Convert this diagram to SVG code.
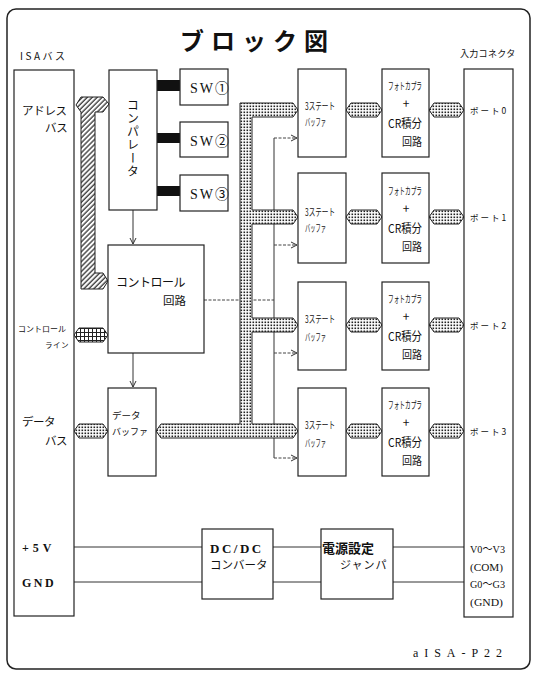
<svg xmlns="http://www.w3.org/2000/svg" width="539" height="680" viewBox="0 0 539 680">
<style>
.box{fill:#fff;stroke:#222;stroke-width:1.2}
.jp{font-family:"Noto Sans CJK JP",sans-serif;fill:#111}
.sf{font-family:"Liberation Serif","Noto Sans CJK JP",serif;fill:#111}
.ln{fill:none;stroke:#333;stroke-width:1}
.dl{fill:none;stroke:#444;stroke-width:1;stroke-dasharray:3 1.5}
.dot{fill:url(#dots);stroke:#222;stroke-width:1}
.b10{font-size:10px}
</style>
<defs>
<pattern id="dots" width="3" height="3" patternUnits="userSpaceOnUse"><rect width="3" height="3" fill="#fff"/><rect x="0.5" y="0.5" width="1.6" height="1.6" fill="#222"/></pattern>
<pattern id="hatch" width="3.5" height="3.5" patternUnits="userSpaceOnUse" patternTransform="rotate(45)"><rect width="3.5" height="3.5" fill="#fff"/><line x1="1" y1="0" x2="1" y2="3.5" stroke="#222" stroke-width="1.2"/></pattern>
<pattern id="grid" width="4" height="4" patternUnits="userSpaceOnUse"><rect width="4" height="4" fill="#fff"/><path d="M0 .5H4M.5 0V4" stroke="#222" stroke-width="1"/></pattern>
<marker id="arr" markerWidth="8" markerHeight="8" refX="7" refY="4" orient="auto" markerUnits="userSpaceOnUse"><path d="M1,1 L7,4 L1,7" fill="none" stroke="#333" stroke-width="1"/></marker>
</defs>
<rect width="539" height="680" fill="#fff"/>
<rect x="7" y="9" width="523" height="660" rx="9" fill="none" stroke="#222" stroke-width="1.5"/>
<text class="jp" x="180" y="50" font-size="24" font-weight="bold" letter-spacing="7">ブロック図</text>
<text class="jp" x="20" y="60" font-size="10" letter-spacing="2.5">ISAバス</text>
<text class="jp" x="460" y="57" font-size="9" letter-spacing="0.3">入力コネクタ</text>
<text class="sf" x="413" y="657" font-size="12" textLength="89" lengthAdjust="spacing">aISA-P22</text>

<g id="connectors">
<line class="ln" x1="133" y1="210" x2="133" y2="244" marker-end="url(#arr)"/>
<line class="ln" x1="133" y1="353" x2="133" y2="387" marker-end="url(#arr)"/>
<line class="dl" x1="204" y1="300" x2="274" y2="300"/>
<line class="ln" x1="274" y1="138" x2="274" y2="458"/>
<line class="dl" x1="274" y1="138" x2="297" y2="138" marker-end="url(#arr)"/>
<line class="dl" x1="274" y1="245" x2="297" y2="245" marker-end="url(#arr)"/>
<line class="dl" x1="274" y1="353" x2="297" y2="353" marker-end="url(#arr)"/>
<line class="dl" x1="274" y1="458" x2="297" y2="458" marker-end="url(#arr)"/>
<rect x="157" y="80" width="23" height="11" fill="#111"/>
<rect x="157" y="133" width="23" height="10" fill="#111"/>
<rect x="157" y="186" width="23" height="10" fill="#111"/>
<polygon points="76,105 81,97 103,97 109,104 103,112 95,112 95,273 103,273 108,281 103,289 81,289 81,112" fill="url(#hatch)" stroke="#222" stroke-width="1"/>
<polygon class="dot" points="240,103 293,103 298,110 293,117 252,117 252,210 293,210 298,217 293,224 252,224 252,318 293,318 298,325 293,332 252,332 252,424 293,424 298,431 293,438 161,438 156,431 161,424 240,424"/>
<polygon points="74,335 79,328 103,328 108,335 103,342 79,342" fill="url(#grid)" stroke="#222" stroke-width="1"/>
<polygon class="dot" points="74,431 79,424 103,424 108,431 103,438 79,438"/>
<polygon class="dot" points="346,110 351,103 377,103 382,110 377,117 351,117"/>
<polygon class="dot" points="429,110 434,103 459,103 464,110 459,117 434,117"/>
<polygon class="dot" points="346,217 351,210 377,210 382,217 377,224 351,224"/>
<polygon class="dot" points="429,217 434,210 459,210 464,217 459,224 434,224"/>
<polygon class="dot" points="346,325 351,318 377,318 382,325 377,332 351,332"/>
<polygon class="dot" points="429,325 434,318 459,318 464,325 459,332 434,332"/>
<polygon class="dot" points="346,431 351,424 377,424 382,431 377,438 351,438"/>
<polygon class="dot" points="429,431 434,424 459,424 464,431 459,438 434,438"/>
<line class="ln" x1="74" y1="547" x2="202" y2="547"/>
<line class="ln" x1="74" y1="582" x2="202" y2="582"/>
<line class="ln" x1="273" y1="547" x2="321" y2="547"/>
<line class="ln" x1="273" y1="582" x2="321" y2="582"/>
<line class="ln" x1="393" y1="547" x2="464" y2="547"/>
<line class="ln" x1="393" y1="582" x2="464" y2="582"/>
</g>

<g id="isa-bus">
<rect class="box" x="14" y="70" width="60" height="546"/>
<text class="jp" x="22" y="115" font-size="11.5" letter-spacing="-0.3">アドレス</text>
<text class="jp" x="45" y="132" font-size="11.5" letter-spacing="-0.3">バス</text>
<text class="jp" x="18" y="332" font-size="8">コントロール</text>
<text class="jp" x="45" y="348" font-size="7.5" letter-spacing="0.5">ライン</text>
<text class="jp" x="22" y="426" font-size="11.5" letter-spacing="-0.5">データ</text>
<text class="jp" x="45" y="445" font-size="11.5" letter-spacing="-0.5">バス</text>
<text class="sf" x="22" y="552" font-size="12" font-weight="bold" letter-spacing="4">+5V</text>
<text class="sf" x="22" y="587" font-size="12" font-weight="bold" letter-spacing="2.5">GND</text>
</g>

<g id="comparator">
<rect class="box" x="109" y="70" width="48" height="140"/>
<text class="jp" x="133" y="99" font-size="12" letter-spacing="1.3" style="writing-mode:vertical-rl">コンパレータ</text>
</g>
<g id="sw1"><rect class="box" x="180" y="69" width="48" height="36"/><text class="sf" x="190" y="93" font-size="14" letter-spacing="2">SW①</text></g>
<g id="sw2"><rect class="box" x="180" y="122" width="48" height="35"/><text class="sf" x="190" y="146" font-size="14" letter-spacing="2">SW②</text></g>
<g id="sw3"><rect class="box" x="180" y="175" width="48" height="36"/><text class="sf" x="190" y="199" font-size="14" letter-spacing="2">SW③</text></g>

<g id="control-circuit">
<rect class="box" x="108" y="245" width="96" height="108"/>
<text class="jp" x="116" y="287" font-size="12" letter-spacing="-0.5">コントロール</text>
<text class="jp" x="163" y="305" font-size="11.5">回路</text>
</g>
<g id="data-buffer">
<rect class="box" x="108" y="388" width="48" height="88"/>
<text class="jp" x="112" y="419" font-size="9.5">データ</text>
<text class="jp" x="112" y="435" font-size="9">バッファ</text>
</g>

<g id="buffer0"><rect class="box" x="298" y="69" width="48" height="88"/><text class="jp b10" x="305" y="110" textLength="30" lengthAdjust="spacingAndGlyphs">3ステート</text><text class="jp b10" x="305" y="126" textLength="21" lengthAdjust="spacingAndGlyphs">バッファ</text></g>
<g id="buffer1"><rect class="box" x="298" y="173" width="48" height="90"/><text class="jp b10" x="305" y="216" textLength="30" lengthAdjust="spacingAndGlyphs">3ステート</text><text class="jp b10" x="305" y="232" textLength="21" lengthAdjust="spacingAndGlyphs">バッファ</text></g>
<g id="buffer2"><rect class="box" x="298" y="282" width="48" height="88"/><text class="jp b10" x="305" y="323" textLength="30" lengthAdjust="spacingAndGlyphs">3ステート</text><text class="jp b10" x="305" y="341" textLength="21" lengthAdjust="spacingAndGlyphs">バッファ</text></g>
<g id="buffer3"><rect class="box" x="298" y="388" width="48" height="88"/><text class="jp b10" x="305" y="429" textLength="30" lengthAdjust="spacingAndGlyphs">3ステート</text><text class="jp b10" x="305" y="447" textLength="21" lengthAdjust="spacingAndGlyphs">バッファ</text></g>

<g id="photo0"><rect class="box" x="382" y="69" width="47" height="88"/><text class="jp b10" x="388" y="90" textLength="34" lengthAdjust="spacingAndGlyphs">フォトカプラ</text><text class="jp" x="406" y="108" font-size="12" text-anchor="middle">+</text><text class="jp" x="388" y="128" font-size="12" textLength="34" lengthAdjust="spacingAndGlyphs">CR積分</text><text class="jp" x="402" y="146" font-size="11" textLength="20" lengthAdjust="spacingAndGlyphs">回路</text></g>
<g id="photo1"><rect class="box" x="382" y="173" width="47" height="90"/><text class="jp b10" x="388" y="195" textLength="34" lengthAdjust="spacingAndGlyphs">フォトカプラ</text><text class="jp" x="406" y="213" font-size="12" text-anchor="middle">+</text><text class="jp" x="388" y="233" font-size="12" textLength="34" lengthAdjust="spacingAndGlyphs">CR積分</text><text class="jp" x="402" y="251" font-size="11" textLength="20" lengthAdjust="spacingAndGlyphs">回路</text></g>
<g id="photo2"><rect class="box" x="382" y="282" width="47" height="88"/><text class="jp b10" x="388" y="303" textLength="34" lengthAdjust="spacingAndGlyphs">フォトカプラ</text><text class="jp" x="406" y="321" font-size="12" text-anchor="middle">+</text><text class="jp" x="388" y="341" font-size="12" textLength="34" lengthAdjust="spacingAndGlyphs">CR積分</text><text class="jp" x="402" y="359" font-size="11" textLength="20" lengthAdjust="spacingAndGlyphs">回路</text></g>
<g id="photo3"><rect class="box" x="382" y="388" width="47" height="88"/><text class="jp b10" x="388" y="409" textLength="34" lengthAdjust="spacingAndGlyphs">フォトカプラ</text><text class="jp" x="406" y="427" font-size="12" text-anchor="middle">+</text><text class="jp" x="388" y="447" font-size="12" textLength="34" lengthAdjust="spacingAndGlyphs">CR積分</text><text class="jp" x="402" y="465" font-size="11" textLength="20" lengthAdjust="spacingAndGlyphs">回路</text></g>

<g id="input-connector">
<rect class="box" x="464" y="69" width="49" height="548"/>
<text class="jp" x="470" y="114" font-size="8.5" letter-spacing="2">ポート0</text>
<text class="jp" x="470" y="221" font-size="8.5" letter-spacing="2">ポート1</text>
<text class="jp" x="470" y="329" font-size="8.5" letter-spacing="2">ポート2</text>
<text class="jp" x="470" y="435" font-size="8.5" letter-spacing="2">ポート3</text>
<text class="sf" x="470" y="553" font-size="11" textLength="35" lengthAdjust="spacingAndGlyphs">V0〜V3</text>
<text class="sf" x="470" y="571" font-size="11" textLength="33" lengthAdjust="spacingAndGlyphs">(COM)</text>
<text class="sf" x="470" y="588" font-size="11" textLength="35" lengthAdjust="spacingAndGlyphs">G0〜G3</text>
<text class="sf" x="470" y="606" font-size="11" textLength="33" lengthAdjust="spacingAndGlyphs">(GND)</text>
</g>

<g id="dcdc">
<rect class="box" x="202" y="529" width="71" height="70"/>
<text class="sf" x="210" y="553" font-size="13" font-weight="bold" letter-spacing="2.5">DC/DC</text>
<text class="jp" x="210" y="569" font-size="11.5">コンバータ</text>
</g>
<g id="jumper">
<rect class="box" x="321" y="529" width="72" height="70"/>
<text class="jp" x="322" y="553" font-size="13" font-weight="bold">電源設定</text>
<text class="jp" x="340" y="569" font-size="11" letter-spacing="1">ジャンパ</text>
</g>
</svg>
